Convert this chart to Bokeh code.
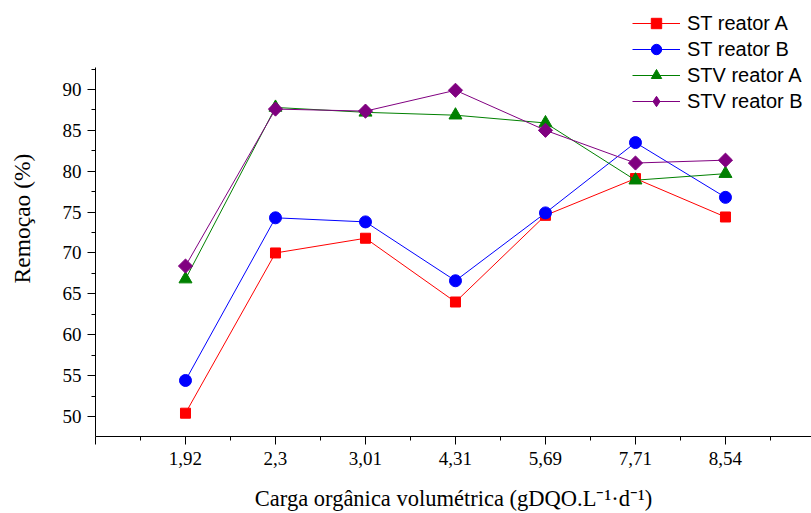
import numpy as np
from bokeh.plotting import figure
from bokeh.models import (Range1d, FixedTicker, Legend, LegendItem)
from bokeh.embed import file_html
from bokeh.resources import INLINE

categories = ["1,92", "2,3", "3,01", "4,31", "5,69", "7,71", "8,54"]
positions = [1, 2, 3, 4, 5, 6, 7]
st_reator_a = [50.4, 70.0, 71.8, 64.0, 74.6, 79.1, 74.4]
st_reator_b = [54.4, 74.3, 73.8, 66.6, 74.9, 83.5, 76.8]
stv_reator_a = [66.8, 87.8, 87.2, 86.85, 85.9, 78.9, 79.7]
stv_reator_b = [68.4, 87.6, 87.35, 89.9, 85.0, 81.0, 81.35]
y_major = [50, 55, 60, 65, 70, 75, 80, 85, 90]
y_minor = [52.5, 57.5, 62.5, 67.5, 72.5, 77.5, 82.5, 87.5, 92.5]

Y_LO, Y_AXIS_TOP, Y_TOP = 47.55, 92.65, 100.88

p = figure(width=811, height=513, output_backend="svg", toolbar_location=None,
           x_range=Range1d(0, 7.956), y_range=Range1d(Y_LO, Y_TOP),
           min_border_left=95, min_border_top=0, min_border_right=0, min_border_bottom=77)
p.outline_line_color = None
p.xgrid.grid_line_color = None
p.ygrid.grid_line_color = None
p.background_fill_color = "white"
p.border_fill_color = "white"

series = [
    ("ST reator A", st_reator_a, "#FF0000", "square", 10, 0),
    ("ST reator B", st_reator_b, "#0000FF", "circle", 12, 0),
    ("STV reator A", stv_reator_a, "#008000", "triangle", 13, 0),
    ("STV reator B", stv_reator_b, "#800080", "square", 10, np.pi / 4),
]
items = []
for name, vals, color, marker, size, ang in series:
    ln = p.line(positions, vals, line_color=color, line_width=1)
    sc = p.scatter(positions, vals, marker=marker, size=size, angle=ang,
                   fill_color=color, line_color=color)
    rends = [ln, sc]
    if ang != 0:
        # legend-only diamond (legend glyphs ignore rotation)
        hid = p.scatter(positions, vals, marker="diamond", size=14,
                        fill_color=color, line_color=color, visible=False)
        rends = [ln, hid]
    items.append(LegendItem(label=name, renderers=rends))

legend = Legend(items=items, location=(537, 322), orientation="vertical",
                label_text_font="Liberation Sans", label_text_font_size="20px",
                label_text_color="black", glyph_width=48, glyph_height=26,
                label_height=20, spacing=0, padding=0, margin=0,
                label_standoff=7, border_line_color=None,
                background_fill_alpha=0, inactive_fill_alpha=0)
p.add_layout(legend)

xa = p.xaxis[0]
xa.ticker = FixedTicker(ticks=[0, 1, 2, 3, 4, 5, 6, 7, 8],
                        minor_ticks=[0.5, 1.5, 2.5, 3.5, 4.5, 5.5, 6.5, 7.5])
overrides = {0: "", 8: ""}
for pos, c in zip(positions, categories):
    overrides[pos] = c
xa.major_label_overrides = overrides
xa.axis_label = "Carga orgânica volumétrica (gDQO.L⁻¹·d⁻¹)"

ya = p.yaxis[0]
ya.ticker = FixedTicker(ticks=y_major, minor_ticks=y_minor)
ya.bounds = (Y_LO, Y_AXIS_TOP)
ya.axis_label = "Remoçao (%)"

for ax in (xa, ya):
    ax.axis_line_color = "black"
    ax.axis_line_width = 1
    ax.major_tick_line_color = "black"
    ax.minor_tick_line_color = "black"
    ax.major_tick_in = 0
    ax.minor_tick_in = 0
    ax.major_tick_out = 8
    ax.minor_tick_out = 4
    ax.major_label_text_font = "Liberation Serif"
    ax.major_label_text_font_size = "19px"
    ax.major_label_text_color = "black"
    ax.axis_label_text_font = "Liberation Serif"
    ax.axis_label_text_font_style = "normal"
    ax.axis_label_text_color = "black"
xa.axis_label_text_font_size = "22.5px"
ya.axis_label_text_font_size = "23.5px"
xa.major_label_standoff = 7
xa.axis_label_standoff = 18
ya.major_label_standoff = 6
ya.axis_label_standoff = 25

open("out.html", "w").write(file_html(p, INLINE))
